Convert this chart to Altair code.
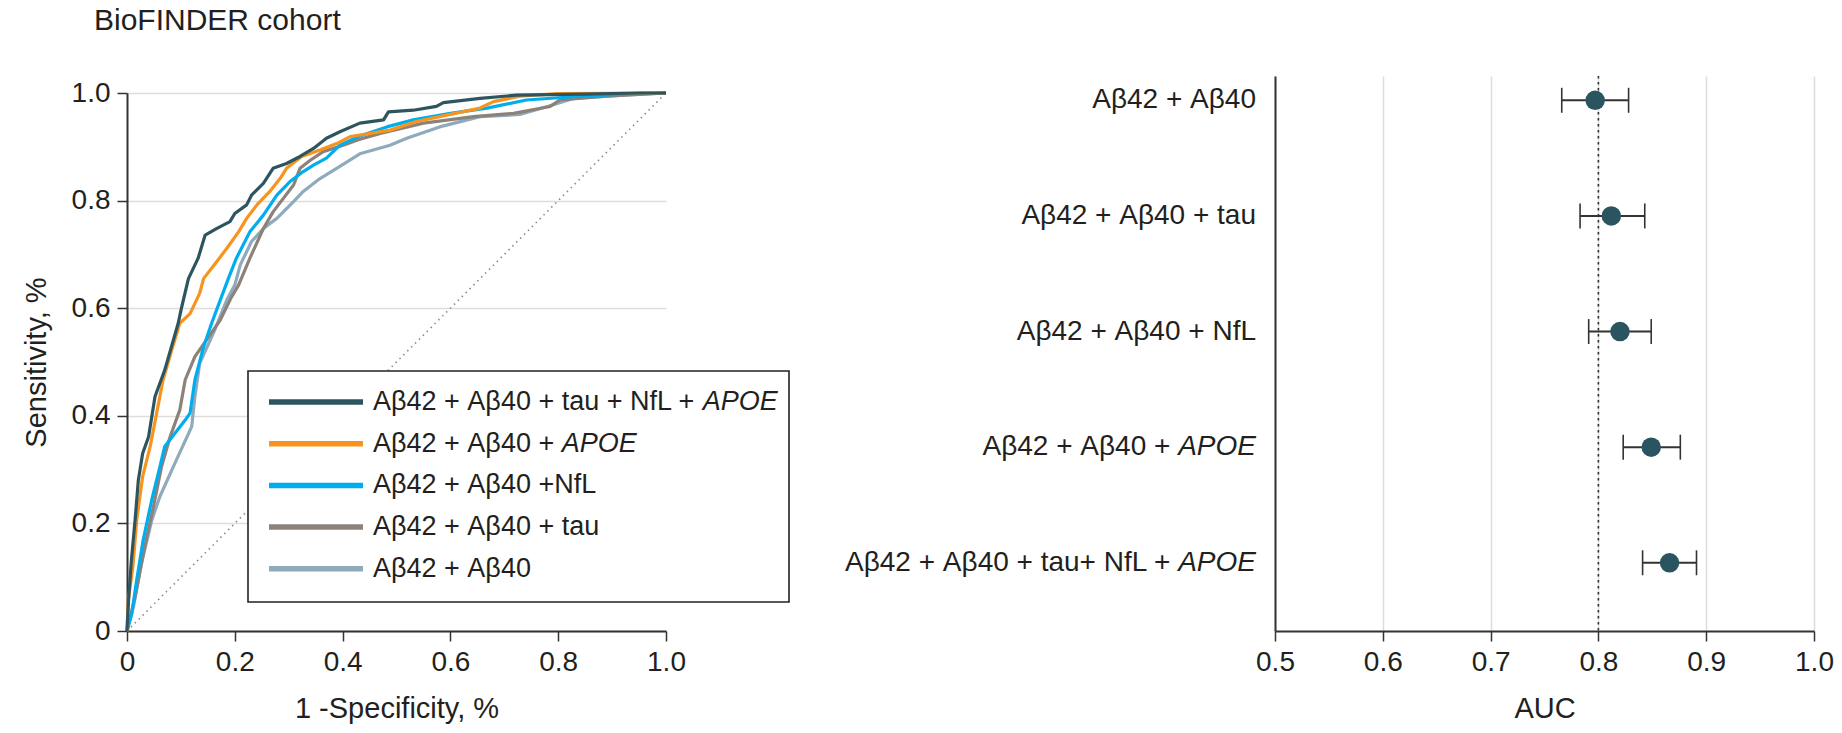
import altair as alt
import pandas as pd

FONT = "Liberation Sans"
INK = "#231f20"

TITLE = "BioFINDER cohort"
X_TITLE_LEFT = "1 -Specificity, %"
Y_TITLE_LEFT = "Sensitivity, %"
X_TITLE_RIGHT = "AUC"

# ROC curves (drawing order: back -> front)
SERIES = ["Aβ42 + Aβ40", "Aβ42 + Aβ40 + tau", "Aβ42 + Aβ40 +NfL",
          "Aβ42 + Aβ40 + APOE", "Aβ42 + Aβ40 + tau + NfL + APOE"]
COLORS = ["#8eaabb", "#8c8279", "#00aeef", "#f7941d", "#2d5560"]

L_FPR = [0, 0.012, 0.027, 0.046, 0.061, 0.089, 0.12, 0.126, 0.135, 0.163, 0.185, 0.2, 0.21,
         0.231, 0.253, 0.278, 0.309, 0.327, 0.358, 0.389, 0.432, 0.488, 0.519, 0.58, 0.655,
         0.729, 0.791, 0.828, 0.92, 1.0]
L_TPR = [0, 0.045, 0.126, 0.206, 0.25, 0.312, 0.38, 0.436, 0.498, 0.56, 0.615, 0.643, 0.68,
         0.724, 0.748, 0.767, 0.798, 0.817, 0.841, 0.86, 0.887, 0.903, 0.916, 0.937, 0.956,
         0.96, 0.978, 0.99, 0.996, 1.0]

G_FPR = [0, 0.015, 0.033, 0.049, 0.064, 0.080, 0.098, 0.108, 0.126, 0.173, 0.194, 0.207,
         0.228, 0.253, 0.271, 0.309, 0.321, 0.34, 0.364, 0.401, 0.432, 0.47, 0.55, 0.643,
         0.717, 0.785, 0.803, 0.89, 1.0]
G_TPR = [0, 0.064, 0.157, 0.231, 0.305, 0.361, 0.411, 0.467, 0.51, 0.578, 0.621, 0.643,
         0.693, 0.748, 0.779, 0.829, 0.86, 0.875, 0.891, 0.903, 0.914, 0.925, 0.944, 0.956,
         0.962, 0.975, 0.987, 0.994, 1.0]

B_FPR = [0, 0.009, 0.018, 0.030, 0.046, 0.061, 0.070, 0.108, 0.117, 0.126, 0.142, 0.157,
         0.173, 0.188, 0.203, 0.228, 0.253, 0.278, 0.302, 0.327, 0.346, 0.370, 0.395, 0.432,
         0.482, 0.531, 0.60, 0.668, 0.741, 0.828, 0.939, 1.0]
B_TPR = [0, 0.033, 0.095, 0.169, 0.244, 0.305, 0.343, 0.392, 0.405, 0.467, 0.528, 0.572,
         0.615, 0.655, 0.693, 0.742, 0.773, 0.81, 0.835, 0.854, 0.866, 0.879, 0.903, 0.92,
         0.937, 0.95, 0.962, 0.972, 0.987, 0.993, 0.999, 1.0]

O_FPR = [0, 0.0025, 0.011, 0.018, 0.029, 0.043, 0.055, 0.067, 0.083, 0.098, 0.117, 0.135,
         0.142, 0.166, 0.185, 0.207, 0.222, 0.241, 0.265, 0.284, 0.296, 0.324, 0.358, 0.389,
         0.414, 0.432, 0.488, 0.537, 0.58, 0.655, 0.68, 0.729, 0.797, 1.0]
O_TPR = [0, 0.058, 0.12, 0.206, 0.287, 0.343, 0.405, 0.467, 0.522, 0.572, 0.59, 0.628,
         0.655, 0.686, 0.711, 0.742, 0.767, 0.792, 0.817, 0.841, 0.86, 0.882, 0.894, 0.906,
         0.919, 0.922, 0.931, 0.947, 0.956, 0.972, 0.984, 0.994, 0.999, 1.0]

T_FPR = [0, 0.003, 0.008, 0.015, 0.021, 0.029, 0.040, 0.052, 0.070, 0.095, 0.101, 0.114,
         0.132, 0.145, 0.166, 0.191, 0.200, 0.222, 0.231, 0.253, 0.271, 0.296, 0.321, 0.346,
         0.370, 0.395, 0.432, 0.476, 0.485, 0.531, 0.574, 0.587, 0.655, 0.723, 0.85, 0.952, 1.0]
T_TPR = [0, 0.06, 0.13, 0.206, 0.28, 0.33, 0.361, 0.436, 0.485, 0.572, 0.60, 0.655,
         0.693, 0.736, 0.748, 0.761, 0.776, 0.792, 0.81, 0.832, 0.86, 0.869, 0.882, 0.897,
         0.916, 0.928, 0.944, 0.95, 0.965, 0.968, 0.975, 0.982, 0.99, 0.996, 0.998, 1.0, 1.0]

FPRS = [L_FPR, G_FPR, B_FPR, O_FPR, T_FPR]
TPRS = [L_TPR, G_TPR, B_TPR, O_TPR, T_TPR]

# legend order (top -> bottom)
LEGEND_ORDER = [4, 3, 2, 1, 0]

# AUC forest plot (top -> bottom)
AUC_LABELS = ["Aβ42 + Aβ40", "Aβ42 + Aβ40 + tau", "Aβ42 + Aβ40 + NfL",
              "Aβ42 + Aβ40 + APOE", "Aβ42 + Aβ40 + tau+ NfL + APOE"]
AUC = [0.797, 0.812, 0.820, 0.849, 0.866]
AUC_LO = [0.766, 0.783, 0.791, 0.823, 0.841]
AUC_HI = [0.828, 0.843, 0.849, 0.876, 0.891]
AUC_TICKS = [0.5, 0.6, 0.7, 0.8, 0.9, 1.0]
ROC_TICKS = [0, 0.2, 0.4, 0.6, 0.8, 1.0]
REF_AUC = [0.8]

ITALIC_WORD = "APOE"

# Arial / Liberation Sans advance widths (1/1000 em)
ADV = {"A": 667, "β": 575, "4": 556, "2": 556, "0": 556, " ": 278, "+": 584, "t": 278,
       "a": 556, "u": 556, "N": 722, "f": 278, "L": 556, "P": 667, "O": 778, "E": 667}


def text_width(s, size):
    return sum(ADV.get(c, 556) for c in s) * size / 1000.0


def split_italic(label):
    if label.endswith(ITALIC_WORD):
        return label[: -len(ITALIC_WORD)].rstrip(), ITALIC_WORD
    return label, ""


PLOT_W = 539
PLOT_H = 555

# ---------------- left panel ----------------
rows = []
for name, fpr, tpr in zip(SERIES, FPRS, TPRS):
    for i, (a, b) in enumerate(zip(fpr, tpr)):
        rows.append({"series": name, "fpr": a, "tpr": b, "step": i})
roc = pd.DataFrame(rows)

xs = alt.Scale(domain=[0, 1], nice=False)
ys = alt.Scale(domain=[0, 1], range=[PLOT_H, 17], nice=False)

x_axis_left = alt.Axis(values=ROC_TICKS, grid=False, title=X_TITLE_LEFT, labelFlush=False,
                       labelExpr="datum.value == 0 ? '0' : format(datum.value, '.1f')")
y_axis_left = alt.Axis(values=ROC_TICKS, grid=True, title=Y_TITLE_LEFT, titlePadding=20,
                       labelFlush=False,
                       labelExpr="datum.value == 0 ? '0' : format(datum.value, '.1f')")

diag_df = pd.DataFrame({"fpr": [0, 1], "tpr": [0, 1]})
diag = alt.Chart(diag_df).mark_line(strokeDash=[1.5, 4], color="#8a8a8a", strokeWidth=1.6).encode(
    x=alt.X("fpr:Q", scale=xs, axis=x_axis_left),
    y=alt.Y("tpr:Q", scale=ys, axis=y_axis_left),
)

curve_layers = []
for name, col in zip(SERIES, COLORS):
    curve_layers.append(
        alt.Chart(roc).transform_filter(alt.datum.series == name)
        .mark_line(color=col, strokeWidth=3.2, strokeJoin="round")
        .encode(x=alt.X("fpr:Q", scale=xs), y=alt.Y("tpr:Q", scale=ys), order="step:Q")
    )

LEG_FS = 27
LEG_TEXT_X = 246
leg_rows = []
for k, si in enumerate(LEGEND_ORDER):
    normal, ital = split_italic(SERIES[si])
    leg_rows.append({"k": k, "normal": normal, "ital": ital, "color": COLORS[si],
                     "ix": LEG_TEXT_X + text_width(normal + " ", LEG_FS)})
leg = pd.DataFrame(leg_rows)

leg_box = alt.Chart(pd.DataFrame({"b": [1]})).mark_rect(
    fill="white", stroke="#222222", strokeWidth=1.6
).encode(x=alt.value(121), x2=alt.value(662), y=alt.value(295), y2=alt.value(526))

leg_base = alt.Chart(leg).transform_calculate(py="326 + datum.k * 41.7")
leg_lines = leg_base.mark_rule(strokeWidth=5.5).encode(
    x=alt.value(142), x2=alt.value(236), y=alt.Y("py:Q", scale=None),
    color=alt.Color("color:N", scale=None),
)
leg_text = leg_base.mark_text(align="left", baseline="middle", font=FONT, fontSize=LEG_FS,
                              color=INK).encode(
    x=alt.value(LEG_TEXT_X), y=alt.Y("py:Q", scale=None), text="normal:N")
leg_ital = leg_base.transform_filter("datum.ital != ''").mark_text(
    align="left", baseline="middle", font=FONT, fontSize=LEG_FS, fontStyle="italic", color=INK
).encode(x=alt.X("ix:Q", scale=None), y=alt.Y("py:Q", scale=None), text="ital:N")

title_mark = alt.Chart(pd.DataFrame({"t": [TITLE]})).mark_text(
    align="left", baseline="middle", font=FONT, fontSize=30, color=INK
).encode(x=alt.value(-33), y=alt.value(-55), text="t:N")

left = alt.layer(diag, *curve_layers, leg_box, leg_lines, leg_text, leg_ital, title_mark).properties(
    width=PLOT_W, height=PLOT_H)

# ---------------- right panel ----------------
LAB_FS = 28
LAB_GAP = 19
auc_rows = []
for i, lab in enumerate(AUC_LABELS):
    normal, ital = split_italic(lab)
    auc_rows.append({"idx": i, "normal": normal, "ital": ital, "auc": AUC[i],
                     "lo": AUC_LO[i], "hi": AUC_HI[i]})
auc = pd.DataFrame(auc_rows)

xr = alt.Scale(domain=[0.5, 1.0], nice=False)
yr = alt.Scale(domain=[-0.21, 4.59], reverse=True, nice=False, zero=False)

x_axis_right = alt.Axis(values=AUC_TICKS, format=".1f", grid=True, title=X_TITLE_RIGHT,
                        labelFlush=False)
y_axis_right = alt.Axis(labels=False, ticks=False, grid=False, title=None)

ref = alt.Chart(pd.DataFrame({"ref": REF_AUC})).mark_rule(
    strokeDash=[2.5, 3.5], color="#333333", strokeWidth=1.6
).encode(x=alt.X("ref:Q", scale=xr, axis=x_axis_right))

err = alt.Chart(auc).mark_rule(color="#333333", strokeWidth=2).encode(
    x=alt.X("lo:Q", scale=xr), x2="hi:Q",
    y=alt.Y("idx:Q", scale=yr, axis=y_axis_right),
)
caps = alt.Chart(auc).transform_fold(["lo", "hi"], as_=["end", "val"]).transform_calculate(
    y0="datum.idx - 0.108", y1="datum.idx + 0.108"
).mark_rule(color="#333333", strokeWidth=1.6).encode(
    x=alt.X("val:Q", scale=xr), y=alt.Y("y0:Q", scale=yr), y2="y1:Q")
pts = alt.Chart(auc).mark_circle(size=380, color="#2b5461", opacity=1).encode(
    x=alt.X("auc:Q", scale=xr), y=alt.Y("idx:Q", scale=yr))

lab_plain = alt.Chart(auc).transform_filter("datum.ital == ''").mark_text(
    align="right", baseline="middle", font=FONT, fontSize=LAB_FS, color=INK
).encode(x=alt.value(-LAB_GAP), y=alt.Y("idx:Q", scale=yr), text="normal:N")
lab_pre = alt.Chart(auc).transform_filter("datum.ital != ''").mark_text(
    align="right", baseline="middle", font=FONT, fontSize=LAB_FS, color=INK
).encode(x=alt.value(-LAB_GAP - text_width(ITALIC_WORD + " ", LAB_FS)),
         y=alt.Y("idx:Q", scale=yr), text="normal:N")
lab_ital = alt.Chart(auc).transform_filter("datum.ital != ''").mark_text(
    align="right", baseline="middle", font=FONT, fontSize=LAB_FS, fontStyle="italic", color=INK
).encode(x=alt.value(-LAB_GAP), y=alt.Y("idx:Q", scale=yr), text="ital:N")

right = alt.layer(ref, err, caps, pts, lab_plain, lab_pre, lab_ital).properties(
    width=PLOT_W, height=PLOT_H)

chart = alt.hconcat(left, right, spacing=53).properties(
    padding={"left": 22, "top": 6, "right": 8, "bottom": 2}
).configure_view(stroke=None).configure_axis(
    labelFont=FONT, titleFont=FONT, labelFontSize=28, titleFontSize=29,
    labelColor=INK, titleColor=INK, titleFontWeight="normal",
    domainColor="#333333", domainWidth=2, tickColor="#333333", tickWidth=1.5,
    tickSize=10, labelPadding=7, titlePadding=18, labelFlush=False,
    gridColor="#dddddd", gridWidth=1.5,
)

chart.save("out.html", embed_options={"renderer": "svg", "actions": False})
